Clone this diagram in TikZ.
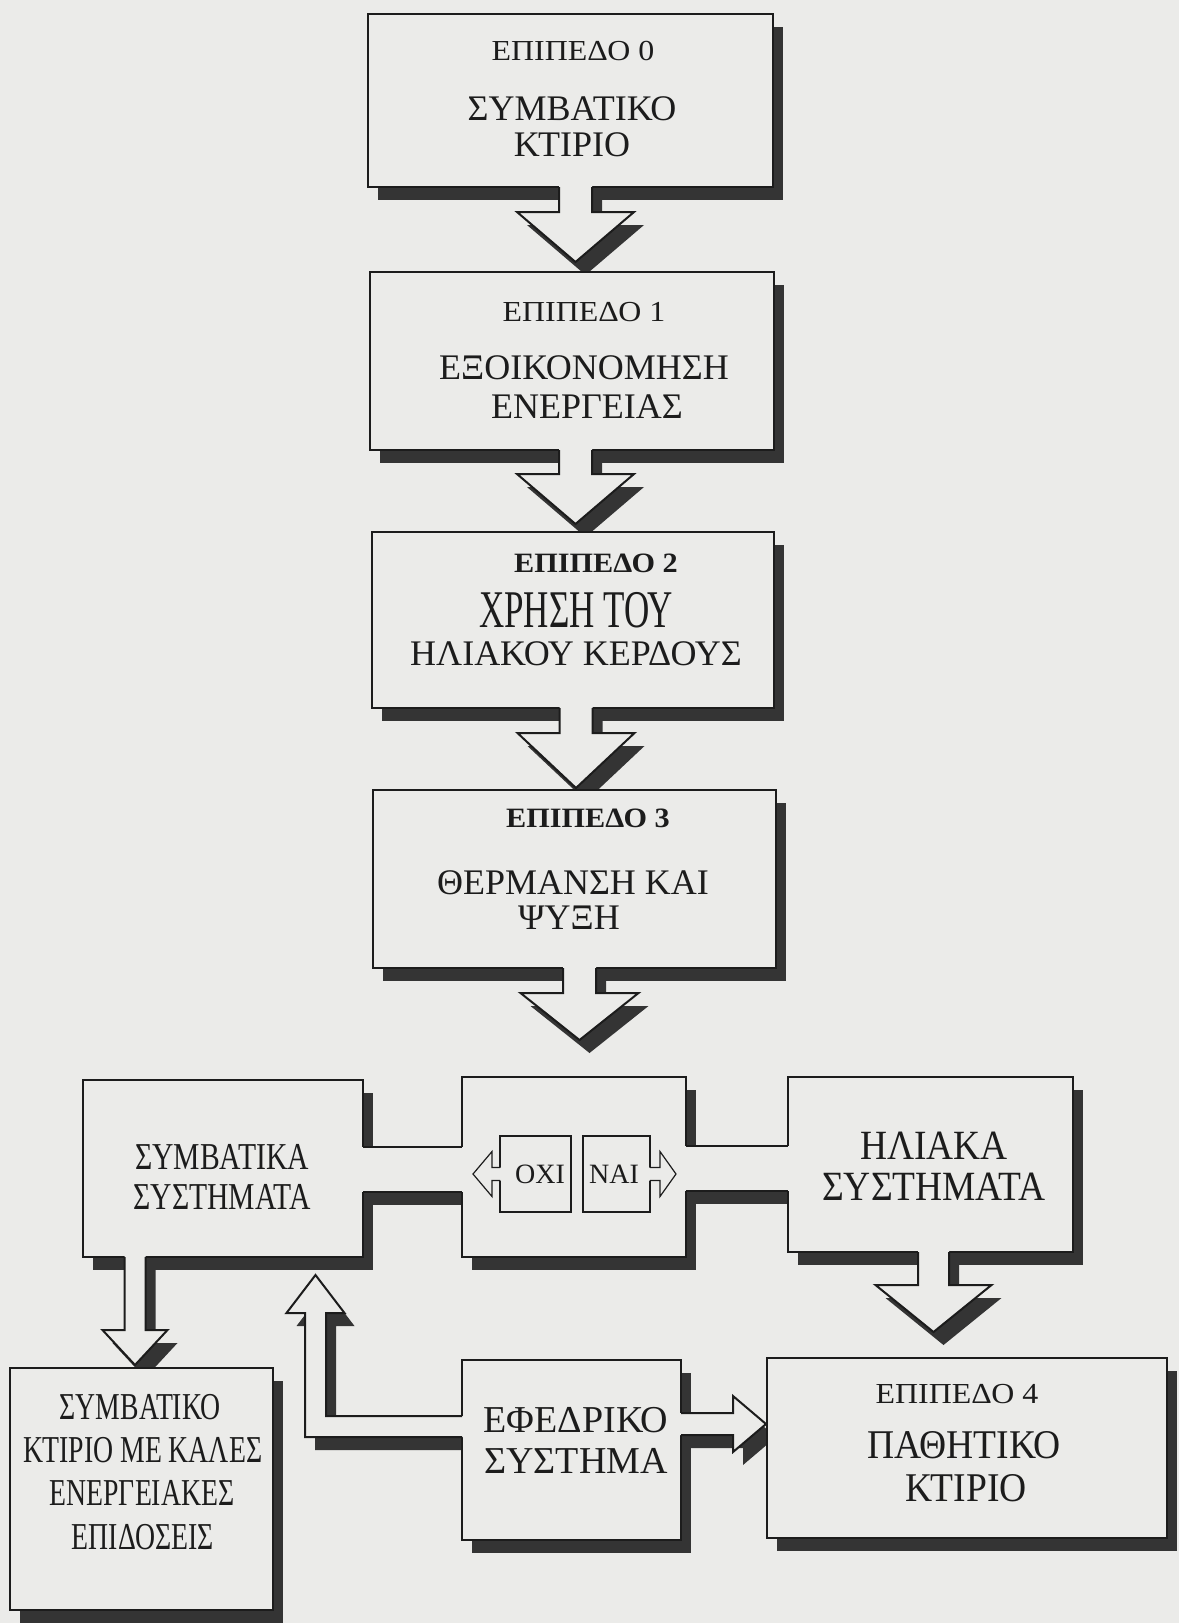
\documentclass[tikz,border=0pt]{standalone}
\usepackage{fontspec}
\setmainfont{Liberation Serif}
\usepackage{graphicx}
\usetikzlibrary{calc}
\definecolor{bgc}{RGB}{235,235,233}
\definecolor{shc}{RGB}{52,52,52}
\definecolor{linec}{RGB}{28,28,28}
\pgfdeclarelayer{bgl}
\pgfdeclarelayer{shd}
\pgfsetlayers{bgl,shd,main}

\newcommand\sx[2]{\scalebox{#1}[1]{#2}}
\newcommand\fz[1]{\fontsize{#1}{#1}\selectfont}

% block arrow shape in local coordinates (axis along +y = downwards)
\newcommand\arrfill[4]{(-#2/2,-1.2) -- (-#2/2,#1) -- (-#4/2,#1) -- (0,#1+#3) -- (#4/2,#1) -- (#2/2,#1) -- (#2/2,-1.2) -- cycle}
\newcommand\arrline[4]{(-#2/2,0) -- (-#2/2,#1) -- (-#4/2,#1) -- (0,#1+#3) -- (#4/2,#1) -- (#2/2,#1) -- (#2/2,0)}

% #2 start coordinate, #3 rotation, #4 stem length, #5 stem width, #6 head length, #7 head width
\newcommand\barrow[7][]{%
  \begin{pgfonlayer}{shd}
    \begin{scope}[shift={(#2)},shift={(10,13)},rotate=#3]
      \fill[shc] \arrfill{#4}{#5}{#6}{#7};
    \end{scope}
  \end{pgfonlayer}
  \begin{scope}[shift={(#2)},rotate=#3]
    \fill[bgc] \arrfill{#4}{#5}{#6}{#7};
    \draw[ln,#1] \arrline{#4}{#5}{#6}{#7};
  \end{scope}}
\newcommand\sarrow[6]{%
  \begin{scope}[shift={(#1)},rotate=#2]
    \fill[bgc] \arrfill{#3}{#4}{#5}{#6};
    \draw[thinln] \arrline{#3}{#4}{#5}{#6};
  \end{scope}}

% box node with drop shadow: name, x1, y1, x2, y2 (pixels, y downwards)
\newcommand\mkbox[5]{%
  \node[bx, minimum width={(#4-#2)*0.5pt}, minimum height={(#5-#3)*0.5pt}] (#1) at ({(#2+#4)/2},{(#3+#5)/2}) {};
  \begin{pgfonlayer}{shd}
    \fill[shc] ($(#1.north west)+(10,13)$) rectangle ($(#1.south east)+(10,13)$);
  \end{pgfonlayer}}

\tikzset{
  ln/.style={draw=linec, line width=1pt, line join=miter},
  thinln/.style={draw=linec, line width=0.6pt, line join=miter},
  bx/.style={draw=linec, line width=1pt, fill=bgc, inner sep=0pt, outer sep=0pt, rectangle},
  sbx/.style={draw=linec, line width=0.6pt, fill=bgc, inner sep=0pt, outer sep=0pt, rectangle},
  tx/.style={inner sep=0pt, outer sep=0pt, text=linec},
}

\begin{document}
\begin{tikzpicture}[x=0.5pt,y=-0.5pt]
\useasboundingbox (0,0) rectangle (1179,1623);
\begin{pgfonlayer}{bgl}
  \fill[bgc] (0,0) rectangle (1179,1623);
\end{pgfonlayer}

% ---------- boxes ----------
\mkbox{b0}{368}{14}{773}{187}
\mkbox{b1}{370}{272}{774}{450}
\mkbox{b2}{372}{532}{774}{708}
\mkbox{b3}{373}{790}{776}{968}
\mkbox{L}{83}{1080}{363}{1257}
\mkbox{M}{462}{1077}{686}{1257}
\mkbox{R}{788}{1077}{1073}{1252}
\mkbox{LL}{10}{1368}{273}{1610}
\mkbox{E}{462}{1360}{681}{1540}
\mkbox{P}{767}{1358}{1167}{1538}

\node[sbx, minimum width=35.5pt, minimum height=38pt] (ox) at (535.5,1174) {};
\node[sbx, minimum width=33.5pt, minimum height=38pt] (na) at (616.5,1174) {};

% ---------- channels joining the three system boxes ----------
\coordinate (c1a) at ($(L.east)+(0,-21.5)$);
\coordinate (c1b) at ($(L.east)+(0,23.5)$);
\coordinate (c1c) at (M.west |- c1a);
\coordinate (c1d) at (M.west |- c1b);
\coordinate (c2a) at ($(M.east)+(0,-21)$);
\coordinate (c2b) at ($(M.east)+(0,24)$);
\coordinate (c2c) at (R.west |- c2a);
\coordinate (c2d) at (R.west |- c2b);
\begin{pgfonlayer}{shd}
  \fill[shc] ($(c1a)+(10,13)$) rectangle ($(c1d)+(10,13)$);
  \fill[shc] ($(c2a)+(10,13)$) rectangle ($(c2d)+(10,13)$);
\end{pgfonlayer}
\fill[bgc] ($(c1a)+(-1.2,0)$) rectangle ($(c1d)+(1.2,0)$);
\fill[bgc] ($(c2a)+(-1.2,0)$) rectangle ($(c2d)+(1.2,0)$);
\draw[ln] (c1a) -- (c1c);
\draw[ln] (c1b) -- (c1d);
\draw[ln] (c2a) -- (c2c);
\draw[ln] (c2b) -- (c2d);

% ---------- block arrows ----------
\coordinate (a0s) at ($(b0.south)+(5,0)$);
\coordinate (a1s) at ($(b1.south)+(3.5,0)$);
\coordinate (a2s) at ($(b2.south)+(3,0)$);
\coordinate (a3s) at ($(b3.south)+(5,0)$);
\coordinate (aLs) at ($(L.south)+(-88,0)$);
\coordinate (aRs) at ($(R.south)+(3,0)$);
\coordinate (aEs) at ($(E.east)+(0,-26)$);
\barrow{a0s}{0}{25}{33}{50}{117}
\barrow{a1s}{0}{24}{33}{50}{117}
\barrow{a2s}{0}{25}{33}{55}{117}
\barrow{a3s}{0}{25}{33}{47}{118}
\barrow{aLs}{0}{73}{21}{35}{65}
\barrow{aRs}{0}{33}{31}{47}{116}
\barrow{aEs}{90}{52}{22}{33}{56}

% L-shaped arrow from the back-up system up to the conventional systems
\coordinate (ue) at ($(E.west)+(0,-23.5)$);
\coordinate (ut) at ($(L.south)+(92.5,18)$);
\coordinate (uc) at (ut |- ue);
\coordinate (ue2) at ($(ue)+(10,13)$);
\coordinate (ut2) at ($(ut)+(10,13)$);
\coordinate (uc2) at ($(uc)+(10,13)$);
\newcommand\uppoly[3]{($(#1)+(1.2,-10.5)$) -- ($(#3)+(10.5,-10.5)$) -- ($(#2)+(10.5,38)$) -- ($(#2)+(29,38)$) -- (#2) -- ($(#2)+(-29,38)$) -- ($(#2)+(-10.5,38)$) -- ($(#3)+(-10.5,10.5)$) -- ($(#1)+(1.2,10.5)$) -- cycle}
\begin{pgfonlayer}{shd}
  \fill[shc] \uppoly{ue2}{ut2}{uc2};
\end{pgfonlayer}
\fill[bgc] \uppoly{ue}{ut}{uc};
\draw[ln] ($(ue)+(0,-10.5)$) -- ($(uc)+(10.5,-10.5)$) -- ($(ut)+(10.5,38)$) -- ($(ut)+(29,38)$) -- (ut) -- ($(ut)+(-29,38)$) -- ($(ut)+(-10.5,38)$) -- ($(uc)+(-10.5,10.5)$) -- ($(ue)+(0,10.5)$);

% small arrows on the OXI / NAI boxes
\sarrow{ox.west}{-90}{8}{13}{19}{45}
\sarrow{na.east}{90}{10}{13}{16}{45}

% ---------- texts ----------
\node[tx,font=\fz{14.5pt}] (b0a) at (573,51) {\sx{1.1}{ΕΠΙΠΕΔΟ 0}};
\node[tx,font=\fz{18pt}] (b0b) at (572,109) {ΣΥΜΒΑΤΙΚΟ};
\node[tx,font=\fz{18pt}] (b0c) at (572,145) {ΚΤΙΡΙΟ};

\node[tx,font=\fz{14.5pt}] (b1a) at (584,312) {\sx{1.1}{ΕΠΙΠΕΔΟ 1}};
\node[tx,font=\fz{18pt}] (b1b) at (584,368) {ΕΞΟΙΚΟΝΟΜΗΣΗ};
\node[tx,font=\fz{18pt}] (b1c) at (587,407) {ΕΝΕΡΓΕΙΑΣ};

\node[tx,font=\fz{14pt}\bfseries] (b2a) at (596,563) {\sx{1.08}{ΕΠΙΠΕΔΟ 2}};
\node[tx,font=\fz{26.5pt}] (b2b) at (576,610) {\sx{0.66}{ΧΡΗΣΗ ΤΟΥ}};
\node[tx,font=\fz{18pt}] (b2c) at (576,654) {ΗΛΙΑΚΟΥ ΚΕΡΔΟΥΣ};

\node[tx,font=\fz{14pt}\bfseries] (b3a) at (588,818) {\sx{1.08}{ΕΠΙΠΕΔΟ 3}};
\node[tx,font=\fz{18pt}] (b3b) at (573,883) {ΘΕΡΜΑΝΣΗ ΚΑΙ};
\node[tx,font=\fz{18pt}] (b3c) at (569,918) {ΨΥΞΗ};

\node[tx,font=\fz{19pt}] (La) at (222,1157) {\sx{0.78}{ΣΥΜΒΑΤΙΚΑ}};
\node[tx,font=\fz{19pt}] (Lb) at (222,1197) {\sx{0.78}{ΣΥΣΤΗΜΑΤΑ}};

\node[tx,font=\fz{14pt}] (oxt) at (540,1174) {ΟΧΙ};
\node[tx,font=\fz{14pt}] (nat) at (614,1174) {ΝΑΙ};

\node[tx,font=\fz{20.8pt}] (Ra) at (934,1146) {\sx{0.9}{ΗΛΙΑΚΑ}};
\node[tx,font=\fz{20.8pt}] (Rb) at (934,1187) {\sx{0.9}{ΣΥΣΤΗΜΑΤΑ}};

\node[tx,font=\fz{19pt}] (LLa) at (140,1407) {\sx{0.73}{ΣΥΜΒΑΤΙΚΟ}};
\node[tx,font=\fz{19pt}] (LLb) at (143,1450) {\sx{0.73}{ΚΤΙΡΙΟ ΜΕ ΚΑΛΕΣ}};
\node[tx,font=\fz{19pt}] (LLc) at (142,1493) {\sx{0.73}{ΕΝΕΡΓΕΙΑΚΕΣ}};
\node[tx,font=\fz{19pt}] (LLd) at (143,1537) {\sx{0.73}{ΕΠΙΔΟΣΕΙΣ}};

\node[tx,font=\fz{19pt}] (Ea) at (576,1420) {ΕΦΕΔΡΙΚΟ};
\node[tx,font=\fz{19pt}] (Eb) at (576,1461) {ΣΥΣΤΗΜΑ};

\node[tx,font=\fz{14.5pt}] (Pa) at (957,1394) {\sx{1.1}{ΕΠΙΠΕΔΟ 4}};
\node[tx,font=\fz{20.4pt}] (Pb) at (964,1445) {\sx{0.92}{ΠΑΘΗΤΙΚΟ}};
\node[tx,font=\fz{20.4pt}] (Pc) at (966,1488) {\sx{0.92}{ΚΤΙΡΙΟ}};
\end{tikzpicture}
\end{document}
